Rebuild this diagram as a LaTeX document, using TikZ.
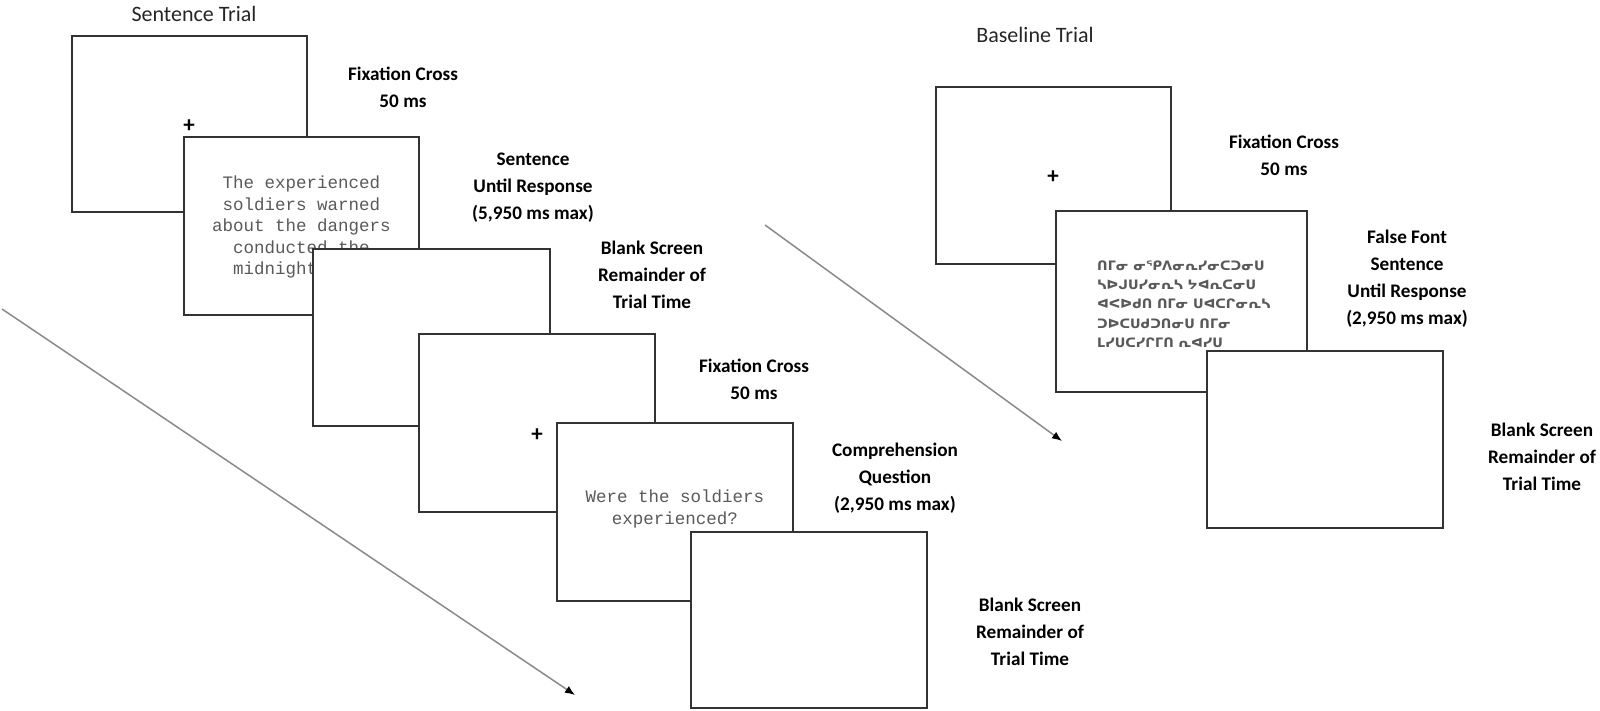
\documentclass[tikz,border=0pt]{standalone}
\usepackage{fontspec}
\setmainfont{Carlito}
\newfontfamily\monof{Liberation Mono}
\newfontfamily\fakef{DejaVu Sans}
\usetikzlibrary{arrows.meta}
\definecolor{edgec}{HTML}{333333}
\definecolor{monoc}{HTML}{5A5A5A}
\definecolor{arrc}{HTML}{8A8A8A}
\tikzset{
  screen/.style={draw=edgec, line width=2pt, fill=white, anchor=north west, inner sep=0pt, outer sep=0pt},
  lbl/.style={align=center, inner sep=0pt, text=black, font=\bfseries\fontsize{19.2}{27}\selectfont},
  ttl/.style={inner sep=0pt, text=black!85, font=\fontsize{22}{26}\selectfont},
  plussign/.style={inner sep=0pt, font=\fontsize{23}{23}\selectfont\bfseries},
  monotxt/.style={align=center, inner sep=0pt, text=monoc, font=\monof\fontsize{17.5}{21.5}\selectfont},
  faketxt/.style={align=left, inner sep=0pt, text=black!65, font=\fakef\bfseries\fontsize{13}{19.3}\selectfont},
  timeline/.style={draw=arrc, line width=1.5pt, -{Latex[length=10pt,width=8pt,color=black]}}
}
\begin{document}
\begin{tikzpicture}[x=1pt,y=-1pt]
\useasboundingbox (0,0) rectangle (1600,711);
% ---------- Sentence trial ----------
\node[ttl] (stitle) at (194,14) {Sentence Trial};
\coordinate (sa0) at (2,309);
\coordinate (sa1) at (575,695);
\draw[timeline] (sa0) -- (sa1);

\node[screen, minimum width=235pt, minimum height=176pt] (s1) at (72,36) {};
\node[plussign] (p1) at (189,126) {+};
\node[screen, minimum width=235pt, minimum height=178pt] (s2) at (184,137) {};
\node[monotxt] (t2) at (301.5,227) {The experienced\\soldiers warned\\about the dangers\\conducted the\\midnight raid};
\node[screen, minimum width=237pt, minimum height=177pt] (s3) at (313,249) {};
\node[screen, minimum width=236pt, minimum height=178pt] (s4) at (419,334) {};
\node[plussign] (p4) at (537,435) {+};
\node[screen, minimum width=236pt, minimum height=178pt] (s5) at (557,423) {};
\node[monotxt] (t5) at (675,509) {Were the soldiers\\experienced?};
\node[screen, minimum width=236pt, minimum height=176pt] (s6) at (691,532) {};

\node[lbl] (l1) at (403,87) {Fixation Cross\\50 ms};
\node[lbl] (l2) at (533,188) {Sentence\\Until Response\\(5,950 ms max)};
\node[lbl] (l3) at (652,275) {Blank Screen\\Remainder of\\Trial Time};
\node[lbl] (l4) at (754,379) {Fixation Cross\\50 ms};
\node[lbl] (l5) at (895,478) {Comprehension\\Question\\(2,950 ms max)};
\node[lbl] (l6) at (1030,632) {Blank Screen\\Remainder of\\Trial Time};

% ---------- Baseline trial ----------
\node[ttl] (btitle) at (1035,35) {Baseline Trial};
\coordinate (ba0) at (765,225);
\coordinate (ba1) at (1062,441);
\draw[timeline] (ba0) -- (ba1);

\node[screen, minimum width=235pt, minimum height=177pt] (b1) at (936,87) {};
\node[plussign] (bp1) at (1053,177) {+};
\node[screen, minimum width=251pt, minimum height=181pt] (b2) at (1056,211) {};
\node[faketxt, anchor=west] (bt2) at (1097,304) {ᑎᒥᓂ ᓂᕿᐱᓂᕆᓯᓂᑕᑐᓂᑌ\\ᓴᐅᒍᑌᓯᓂᕆᓴ ᔭᐊᕆᑕᓂᑌ\\ᐊᐸᐅᑯᑎ ᑎᒥᓂ ᑌᐊᑕᒋᓂᕆᓴ\\ᑐᐅᑕᑌᑯᑐᑎᓂᑌ ᑎᒥᓂ\\ᒪᓯᑌᑕᓯᒋᒥᑎ ᕆᐊᓯᑌ};
\node[screen, minimum width=236pt, minimum height=177pt] (b3) at (1207,351) {};

\node[lbl] (bl1) at (1284,155) {Fixation Cross\\50 ms};
\node[lbl] (bl2) at (1407,279) {False Font\\Sentence\\Until Response\\(2,950 ms max)};
\node[lbl] (bl3) at (1542,457) {Blank Screen\\Remainder of\\Trial Time};
\end{tikzpicture}
\end{document}
